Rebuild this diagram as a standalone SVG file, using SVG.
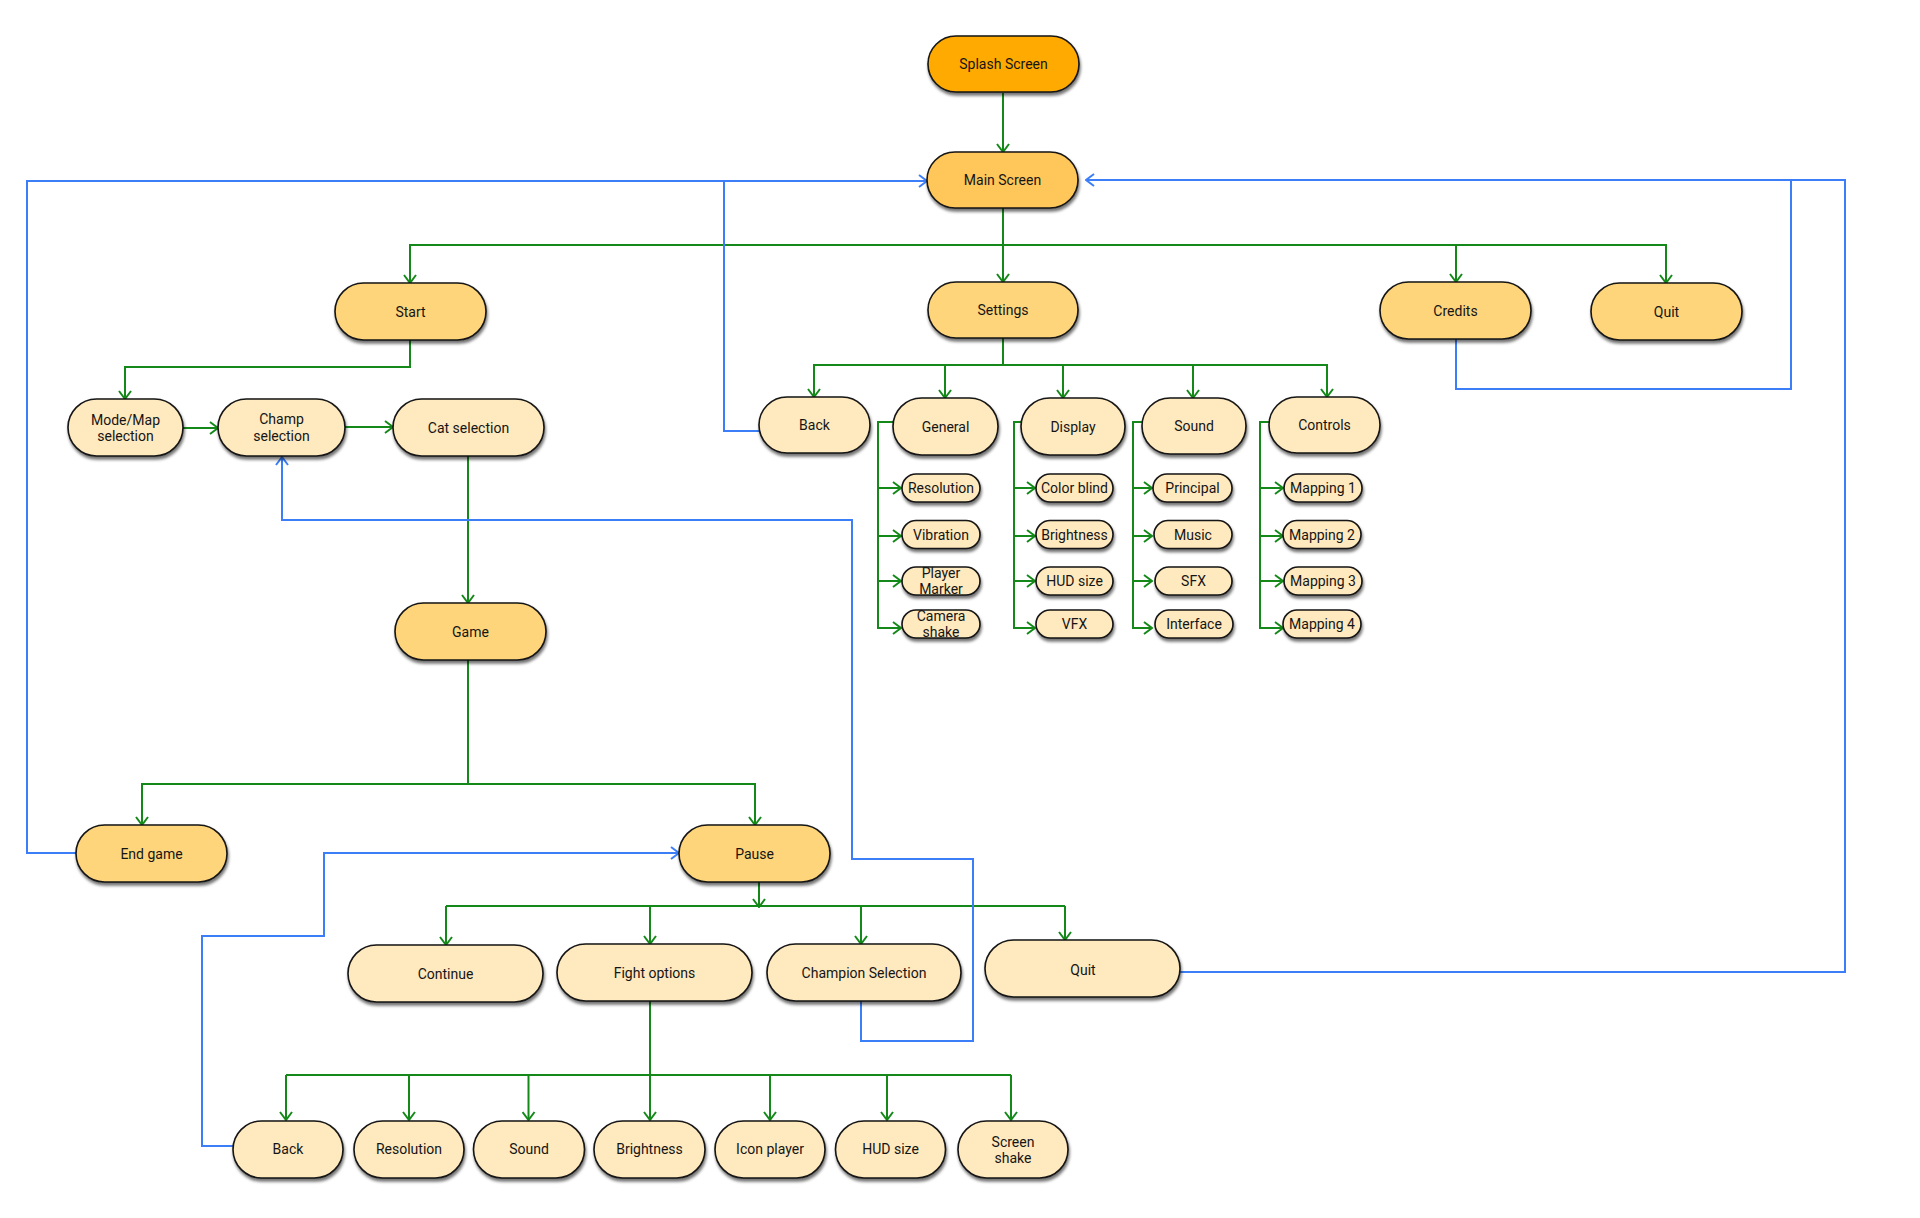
<svg xmlns="http://www.w3.org/2000/svg" width="1920" height="1218" viewBox="0 0 1920 1218">
<defs>
<style>
.g{fill:none;stroke:#14891a;stroke-width:2}
.b{fill:none;stroke:#3b7ef8;stroke-width:2}
.ga{marker-end:url(#ag)}
.ba{marker-end:url(#ab)}
.n rect{stroke:#151515;stroke-width:1.6;filter:url(#sh)}
.n1 rect{fill:#FFAA00}
.n2 rect{fill:#FFC65A}
.n3 rect{fill:#FFD57C}
.n4 rect{fill:#FFE9BE}
text{font-family:Roboto,"Liberation Sans",sans-serif;font-size:14px;fill:#151515;text-anchor:middle}
.s text{font-size:14px}
</style>
<filter id="sh" x="-20%" y="-30%" width="140%" height="170%">
<feDropShadow dx="1" dy="3" stdDeviation="1.4" flood-color="#000" flood-opacity="0.55"/>
</filter>
<marker id="ag" viewBox="0 0 10 14" refX="9" refY="7" markerWidth="10" markerHeight="14" markerUnits="userSpaceOnUse" orient="auto">
<path d="M1,1 L9,7 L1,13" fill="none" stroke="#14891a" stroke-width="2"/>
</marker>
<marker id="ab" viewBox="0 0 10 14" refX="9" refY="7" markerWidth="10" markerHeight="14" markerUnits="userSpaceOnUse" orient="auto">
<path d="M1,1 L9,7 L1,13" fill="none" stroke="#3b7ef8" stroke-width="2"/>
</marker>
</defs>
<rect width="1920" height="1218" fill="#ffffff"/>

<g id="connectors">
<path class="g ga" d="M1003,93 V152"/>
<path class="g ga" d="M1003,208 V282"/>
<path class="g ga" d="M1003,245 H410 V283"/>
<path class="g ga" d="M1003,245 H1456 V282"/>
<path class="g ga" d="M1456,245 H1666 V283"/>
<path class="g ga" d="M410,340 V367 H125 V399"/>
<path class="g ga" d="M183,428 H218"/>
<path class="g ga" d="M345,427 H393"/>
<path class="g ga" d="M468,456 V603"/>
<path class="g ga" d="M468,659 V784 H142 V825"/>
<path class="g ga" d="M468,784 H755 V825"/>
<path class="g ga" d="M1003,338 V365 H814 V397"/>
<path class="g ga" d="M945,365 V398"/>
<path class="g ga" d="M1003,365 H1327 V397"/>
<path class="g ga" d="M1063,365 V398"/>
<path class="g ga" d="M1193,365 V398"/>
<path class="g ga" d="M893,422 H878 V628 H901"/>
<path class="g ga" d="M878,488 H901"/>
<path class="g ga" d="M878,536 H901"/>
<path class="g ga" d="M878,581 H901"/>
<path class="g ga" d="M1021,422 H1014 V628 H1035"/>
<path class="g ga" d="M1014,488 H1035"/>
<path class="g ga" d="M1014,536 H1035"/>
<path class="g ga" d="M1014,581 H1035"/>
<path class="g ga" d="M1142,422 H1133 V628 H1152"/>
<path class="g ga" d="M1133,488 H1152"/>
<path class="g ga" d="M1133,536 H1152"/>
<path class="g ga" d="M1133,581 H1152"/>
<path class="g ga" d="M1269,422 H1260 V628 H1283"/>
<path class="g ga" d="M1260,488 H1283"/>
<path class="g ga" d="M1260,536 H1283"/>
<path class="g ga" d="M1260,581 H1283"/>
<path class="g ga" d="M759,882 V907"/>
<path class="g" d="M446,906 H1065"/>
<path class="g ga" d="M446,906 V945"/>
<path class="g ga" d="M650,906 V944"/>
<path class="g ga" d="M861,906 V944"/>
<path class="g ga" d="M1065,906 V940"/>
<path class="g" d="M650,1001 V1075"/>
<path class="g" d="M286,1075 H1011"/>
<path class="g ga" d="M286,1075 V1120"/>
<path class="g ga" d="M409,1075 V1120"/>
<path class="g ga" d="M528.5,1075 V1120"/>
<path class="g ga" d="M650,1075 V1120"/>
<path class="g ga" d="M770,1075 V1120"/>
<path class="g ga" d="M887,1075 V1120"/>
<path class="g ga" d="M1011,1075 V1120"/>
<path class="b ba" d="M76,853 H27 V181 H927"/>
<path class="b" d="M759,431 H724 V181"/>
<path class="b ba" d="M1456,339 V389 H1791 V180 H1086"/>
<path class="b" d="M1180,972 H1845 V180 H1791"/>
<path class="b ba" d="M861,1001 V1041 H973 V859 H852 V520 H282 V457"/>
<path class="b ba" d="M233,1146 H202 V936 H324 V853 H679"/>
</g>

<g id="splash" class="n n1"><rect x="928" y="36" width="151" height="56" rx="28"/><text x="1003.5" y="69">Splash Screen</text></g>
<g id="main" class="n n2"><rect x="927" y="152" width="151" height="56" rx="28"/><text x="1002.5" y="185">Main Screen</text></g>
<g id="start" class="n n3"><rect x="335" y="283" width="151" height="57" rx="28.5"/><text x="410.5" y="316.5">Start</text></g>
<g id="settings" class="n n3"><rect x="928" y="282" width="150" height="56" rx="28"/><text x="1003" y="315">Settings</text></g>
<g id="credits" class="n n3"><rect x="1380" y="282" width="151" height="57" rx="28.5"/><text x="1455.5" y="315.5">Credits</text></g>
<g id="quit-main" class="n n3"><rect x="1591" y="283" width="151" height="57" rx="28.5"/><text x="1666.5" y="316.5">Quit</text></g>

<g id="modemap" class="n n4"><rect x="68" y="399" width="115" height="57" rx="28.5"/><text x="125.5" y="424.5">Mode/Map</text><text x="125.5" y="440.5">selection</text></g>
<g id="champ" class="n n4"><rect x="218" y="399" width="127" height="57" rx="28.5"/><text x="281.5" y="424">Champ</text><text x="281.5" y="440.5">selection</text></g>
<g id="cat" class="n n4"><rect x="393" y="399" width="151" height="57" rx="28.5"/><text x="468.5" y="432.5">Cat selection</text></g>
<g id="game" class="n n3"><rect x="395" y="603" width="151" height="57" rx="28.5"/><text x="470.5" y="636.5">Game</text></g>
<g id="endgame" class="n n3"><rect x="76" y="825" width="151" height="57" rx="28.5"/><text x="151.5" y="858.5">End game</text></g>
<g id="pause" class="n n3"><rect x="679" y="825" width="151" height="57" rx="28.5"/><text x="754.5" y="858.5">Pause</text></g>

<g id="set-back" class="n n4"><rect x="759" y="397" width="111" height="56" rx="28"/><text x="814.5" y="430">Back</text></g>
<g id="general" class="n n4"><rect x="893" y="398" width="105" height="57" rx="28.5"/><text x="945.5" y="431.5">General</text></g>
<g id="display" class="n n4"><rect x="1021" y="398" width="104" height="57" rx="28.5"/><text x="1073" y="431.5">Display</text></g>
<g id="sound" class="n n4"><rect x="1142" y="398" width="104" height="56" rx="28"/><text x="1194" y="431">Sound</text></g>
<g id="controls" class="n n4"><rect x="1269" y="397" width="111" height="56" rx="28"/><text x="1324.5" y="430">Controls</text></g>

<g id="gen-resolution" class="n n4 s"><rect x="902" y="474" width="78" height="28" rx="14"/><text x="941" y="493">Resolution</text></g>
<g id="gen-vibration" class="n n4 s"><rect x="902" y="520.5" width="78" height="28" rx="14"/><text x="941" y="539.5">Vibration</text></g>
<g id="gen-player" class="n n4 s"><rect x="902" y="567" width="78" height="28" rx="14"/><text x="941" y="578">Player</text><text x="941" y="594">Marker</text></g>
<g id="gen-camera" class="n n4 s"><rect x="902" y="610" width="78" height="28" rx="14"/><text x="941" y="621">Camera</text><text x="941" y="637">shake</text></g>

<g id="dis-colorblind" class="n n4 s"><rect x="1036" y="474" width="77" height="28" rx="14"/><text x="1074.5" y="493">Color blind</text></g>
<g id="dis-brightness" class="n n4 s"><rect x="1036" y="520.5" width="77" height="28" rx="14"/><text x="1074.5" y="539.5">Brightness</text></g>
<g id="dis-hud" class="n n4 s"><rect x="1036" y="567" width="77" height="28" rx="14"/><text x="1074.5" y="586">HUD size</text></g>
<g id="dis-vfx" class="n n4 s"><rect x="1036" y="610" width="77" height="28" rx="14"/><text x="1074.5" y="629">VFX</text></g>

<g id="snd-principal" class="n n4 s"><rect x="1153" y="474" width="79" height="28" rx="14"/><text x="1192.5" y="493">Principal</text></g>
<g id="snd-music" class="n n4 s"><rect x="1154" y="520.5" width="78" height="28" rx="14"/><text x="1193" y="539.5">Music</text></g>
<g id="snd-sfx" class="n n4 s"><rect x="1155" y="567" width="77" height="28" rx="14"/><text x="1193.5" y="586">SFX</text></g>
<g id="snd-interface" class="n n4 s"><rect x="1155" y="610" width="78" height="28" rx="14"/><text x="1194" y="629">Interface</text></g>

<g id="ctl-map1" class="n n4 s"><rect x="1284" y="474" width="78" height="28" rx="14"/><text x="1323" y="493">Mapping 1</text></g>
<g id="ctl-map2" class="n n4 s"><rect x="1283" y="520.5" width="78" height="28" rx="14"/><text x="1322" y="539.5">Mapping 2</text></g>
<g id="ctl-map3" class="n n4 s"><rect x="1284" y="567" width="78" height="28" rx="14"/><text x="1323" y="586">Mapping 3</text></g>
<g id="ctl-map4" class="n n4 s"><rect x="1283" y="610" width="78" height="28" rx="14"/><text x="1322" y="629">Mapping 4</text></g>

<g id="continue" class="n n4"><rect x="348" y="945" width="195" height="57" rx="28.5"/><text x="445.5" y="978.5">Continue</text></g>
<g id="fight" class="n n4"><rect x="557" y="944" width="195" height="57" rx="28.5"/><text x="654.5" y="977.5">Fight options</text></g>
<g id="champsel" class="n n4"><rect x="767" y="944" width="194" height="57" rx="28.5"/><text x="864" y="977.5">Champion Selection</text></g>
<g id="quit-pause" class="n n4"><rect x="985" y="940" width="195" height="57" rx="28.5"/><text x="1083" y="975">Quit</text></g>

<g id="f-back" class="n n4"><rect x="233" y="1121" width="110" height="57" rx="28.5"/><text x="288" y="1154">Back</text></g>
<g id="f-resolution" class="n n4"><rect x="354" y="1121" width="110" height="57" rx="28.5"/><text x="409" y="1154">Resolution</text></g>
<g id="f-sound" class="n n4"><rect x="473.5" y="1121" width="111" height="57" rx="28.5"/><text x="529" y="1154">Sound</text></g>
<g id="f-brightness" class="n n4"><rect x="594" y="1121" width="111" height="57" rx="28.5"/><text x="649.5" y="1154">Brightness</text></g>
<g id="f-icon" class="n n4"><rect x="715" y="1121" width="110" height="57" rx="28.5"/><text x="770" y="1154">Icon player</text></g>
<g id="f-hud" class="n n4"><rect x="835.5" y="1121" width="110" height="57" rx="28.5"/><text x="890.5" y="1154">HUD size</text></g>
<g id="f-shake" class="n n4"><rect x="958" y="1121" width="110" height="57" rx="28.5"/><text x="1013" y="1146.7">Screen</text><text x="1013" y="1163.3">shake</text></g>
</svg>
